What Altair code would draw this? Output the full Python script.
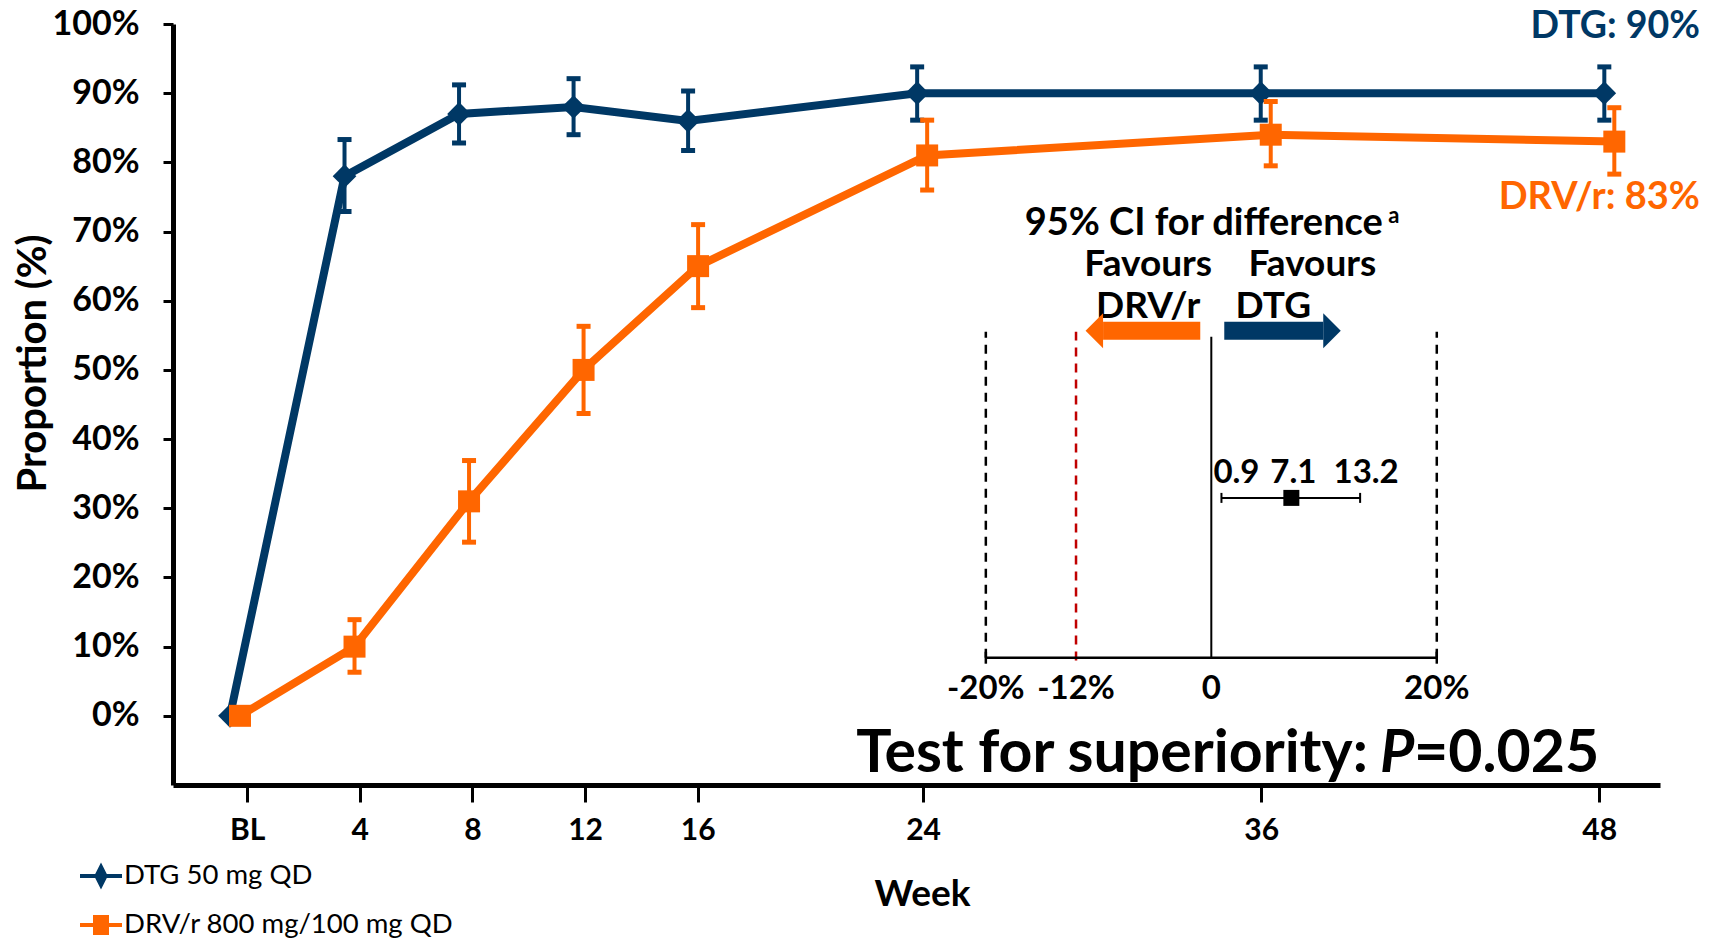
import altair as alt
import pandas as pd

# ---------------- data ----------------
weeks = [0, 4, 8, 12, 16, 24, 36, 48]
week_labels = ["BL", "4", "8", "12", "16", "24", "36", "48"]
y_ticks = [0, 10, 20, 30, 40, 50, 60, 70, 80, 90, 100]

dtg_name = "DTG 50 mg QD"
drv_name = "DRV/r 800 mg/100 mg QD"
dtg_vals = [0, 78, 87, 88, 86, 90, 90, 90]
dtg_low = [0, 72.9, 82.8, 84.0, 81.7, 86.1, 86.1, 86.1]
dtg_high = [0, 83.3, 91.2, 92.1, 90.3, 93.8, 93.8, 93.8]
drv_vals = [0, 10, 31, 50, 65, 81, 84, 83]
drv_low = [0, 6.3, 25.1, 43.7, 59.0, 76.0, 79.5, 78.3]
drv_high = [0, 13.9, 36.9, 56.3, 71.0, 86.1, 88.8, 87.9]

# inset (95% CI for difference)
margin_lines = [-20, 20]
nim_line = [-12]
inset_ticks = [-20, -12, 0, 20]
inset_tick_labels = ["-20%", "-12%", "0", "20%"]
ci_low, ci_est, ci_high = 0.9, 7.1, 13.2

# ---------------- style ----------------
NAVY = "#003865"
ORANGE = "#FF6600"
RED = "#C00000"
FONT = "Lato"
W, H = 1487, 761

Y = alt.Scale(domain=[-10, 100], nice=False, zero=False)
X_AXIS = alt.Scale(domain=[-2.63, 50.16], nice=False, zero=False)
X_DATA = alt.Scale(domain=[-2.165, 49.77], nice=False, zero=False)
X_IN = alt.Scale(domain=[-92.1, 39.8], nice=False, zero=False)

# inset vertical placement (in proportion units of the shared y scale)
IN_AXIS_Y = 8.4
IN_TOP = 55.5
IN_ZERO_TOP = 54.8
IN_CI_Y = 31.5
ARROW_Y = 55.66


def ydat(v):
    return alt.Y(datum=v, type="quantitative", scale=Y, axis=None)


def xdat(v, sc):
    return alt.X(datum=v, type="quantitative", scale=sc, axis=None)


def text_layer(txt, x, y, sc, size, color="black", align="center",
               weight="bold", style="normal", dx=0, baseline="middle"):
    return alt.Chart(pd.DataFrame({"t": [txt]})).mark_text(
        font=FONT, fontSize=size, fontWeight=weight, fontStyle=style,
        color=color, align=align, baseline=baseline, dx=dx
    ).encode(x=xdat(x, sc), y=ydat(y), text="t:N")


layers = []

# ---- axis carrier ----
axis_df = pd.DataFrame({"week": weeks, "label": week_labels})
label_expr = f"datum.value == {weeks[0]} ? '{week_labels[0]}' : datum.label"
carrier = alt.Chart(axis_df).mark_point(opacity=0).encode(
    x=alt.X("week:Q", scale=X_AXIS, axis=alt.Axis(
        values=weeks, labelExpr=label_expr, grid=False,
        domainColor="black", domainWidth=5, tickColor="black", tickWidth=3, tickSize=17,
        labelFont=FONT, labelFontSize=30, labelFontWeight="bold", labelColor="black",
        labelPadding=13, labelFlush=False,
        title="Week", titleFont=FONT, titleFontSize=37, titleFontWeight="bold",
        titleColor="black", titleX=749, titleY=109, titleAlign="center",
        titleBaseline="middle")),
    y=alt.Y(datum=0, type="quantitative", scale=Y, axis=alt.Axis(
        values=y_ticks, labelExpr="datum.value + '%'", grid=False,
        domainColor="black", domainWidth=5, tickColor="black", tickWidth=3, tickSize=10,
        labelFont=FONT, labelFontSize=34, labelFontWeight="bold", labelColor="black",
        labelPadding=24, labelFlush=False,
        title="Proportion (%)", titleFont=FONT, titleFontSize=40, titleFontWeight="bold",
        titleColor="black", titleAngle=270, titleX=-140, titleY=339,
        titleAlign="center", titleBaseline="middle")),
)
layers.append(carrier)


# ---- series ----
def series_layers(vals, lo, hi, color, shape, size, offset):
    df = pd.DataFrame({"week": weeks, "value": vals})
    err = pd.DataFrame({"week": weeks[1:], "lo": lo[1:], "hi": hi[1:]})
    x = alt.X("week:Q", scale=X_DATA, axis=None)
    out = []
    out.append(alt.Chart(df).mark_line(color=color, strokeWidth=8, xOffset=offset).encode(
        x=x, y=alt.Y("value:Q", scale=Y, axis=None)))
    out.append(alt.Chart(err).mark_rule(color=color, strokeWidth=4, xOffset=offset).encode(
        x=x, y=alt.Y("lo:Q", scale=Y, axis=None), y2="hi:Q"))
    for fld in ["lo", "hi"]:
        out.append(alt.Chart(err).mark_tick(color=color, orient="horizontal", size=14,
                                            thickness=5, opacity=1, xOffset=offset).encode(
            x=x, y=alt.Y(f"{fld}:Q", scale=Y, axis=None)))
    out.append(alt.Chart(df).mark_point(filled=True, shape=shape, size=size, color=color,
                                        opacity=1, xOffset=offset).encode(
        x=x, y=alt.Y("value:Q", scale=Y, axis=None)))
    return out


layers += series_layers(dtg_vals, dtg_low, dtg_high, NAVY, "diamond", 560, -5)
layers += series_layers(drv_vals, drv_low, drv_high, ORANGE, "square", 484, 5)

# ---- end labels ----
layers.append(text_layer("DTG: 90%", 51.58, 99.6, X_AXIS, 37.5, NAVY, align="right"))
layers.append(text_layer("DRV/r: 83%", 51.58, 74.9, X_AXIS, 38, ORANGE, align="right"))

# ---- inset ----
dash_df = pd.DataFrame({"v": margin_lines})
layers.append(alt.Chart(dash_df).mark_rule(color="black", strokeWidth=2.5, strokeDash=[9, 7]).encode(
    x=alt.X("v:Q", scale=X_IN, axis=None), y=ydat(IN_AXIS_Y), y2=alt.Y2(datum=IN_TOP)))
nim_df = pd.DataFrame({"v": nim_line})
layers.append(alt.Chart(nim_df).mark_rule(color=RED, strokeWidth=2.5, strokeDash=[9, 7]).encode(
    x=alt.X("v:Q", scale=X_IN, axis=None), y=ydat(IN_AXIS_Y - 0.4), y2=alt.Y2(datum=IN_TOP)))
zero_df = pd.DataFrame({"v": [0]})
layers.append(alt.Chart(zero_df).mark_rule(color="black", strokeWidth=2).encode(
    x=alt.X("v:Q", scale=X_IN, axis=None), y=ydat(IN_AXIS_Y), y2=alt.Y2(datum=IN_ZERO_TOP)))
# inset axis
ax_df = pd.DataFrame({"a": [margin_lines[0]], "b": [margin_lines[1]]})
layers.append(alt.Chart(ax_df).mark_rule(color="black", strokeWidth=2.5).encode(
    x=alt.X("a:Q", scale=X_IN, axis=None), x2="b:Q", y=ydat(IN_AXIS_Y)))
layers.append(alt.Chart(dash_df).mark_tick(color="black", orient="vertical", size=12,
                                           thickness=2.5, opacity=1).encode(
    x=alt.X("v:Q", scale=X_IN, axis=None), y=ydat(IN_AXIS_Y)))
tl_df = pd.DataFrame({"v": inset_ticks, "t": inset_tick_labels})
layers.append(alt.Chart(tl_df).mark_text(font=FONT, fontSize=33, fontWeight="bold",
                                         color="black", baseline="middle").encode(
    x=alt.X("v:Q", scale=X_IN, axis=None), y=ydat(3.9), text="t:N"))
# CI
ci_df = pd.DataFrame({"lo": [ci_low], "hi": [ci_high], "est": [ci_est]})
layers.append(alt.Chart(ci_df).mark_rule(color="black", strokeWidth=2).encode(
    x=alt.X("lo:Q", scale=X_IN, axis=None), x2="hi:Q", y=ydat(IN_CI_Y)))
ends_df = pd.DataFrame({"v": [ci_low, ci_high]})
layers.append(alt.Chart(ends_df).mark_tick(color="black", orient="vertical", size=10,
                                           thickness=2, opacity=1).encode(
    x=alt.X("v:Q", scale=X_IN, axis=None), y=ydat(IN_CI_Y)))
layers.append(alt.Chart(ci_df).mark_point(shape="square", filled=True, size=256,
                                          color="black", opacity=1).encode(
    x=alt.X("est:Q", scale=X_IN, axis=None), y=ydat(IN_CI_Y)))
layers.append(text_layer(f"{ci_low}", ci_low, 35.1, X_IN, 33, dx=15))
layers.append(text_layer(f"{ci_est}", ci_est, 35.1, X_IN, 33, dx=2))
layers.append(text_layer(f"{ci_high}", ci_high, 35.1, X_IN, 33, dx=6))
# titles
layers.append(text_layer("95% CI for difference", -0.67, 71.1, X_IN, 38))
layers.append(text_layer("a", 15.7, 72.3, X_IN, 22, align="left"))
layers.append(text_layer("Favours", -5.6, 65.2, X_IN, 37))
layers.append(text_layer("Favours", 8.96, 65.2, X_IN, 37))
layers.append(text_layer("DRV/r", -5.6, 59.1, X_IN, 37))
layers.append(text_layer("DTG", 5.5, 59.1, X_IN, 37))
# arrows
arr_l = pd.DataFrame({"a": [-0.98], "b": [-9.6]})
arr_r = pd.DataFrame({"a": [1.15], "b": [9.93]})
for adf, col, path in [(arr_l, ORANGE, "M0,-1L-1,0L0,1Z"), (arr_r, NAVY, "M0,-1L1,0L0,1Z")]:
    layers.append(alt.Chart(adf).mark_rule(color=col, strokeWidth=18, strokeCap="butt").encode(
        x=alt.X("a:Q", scale=X_IN, axis=None), x2="b:Q", y=ydat(ARROW_Y)))
    layers.append(alt.Chart(adf).mark_point(shape=path, filled=True, size=1225, color=col,
                                            opacity=1, strokeWidth=0).encode(
        x=alt.X("b:Q", scale=X_IN, axis=None), y=ydat(ARROW_Y)))

# ---- superiority test ----
TEST_Y = -5.5
layers.append(text_layer("Test for superiority:", 39.79, TEST_Y, X_AXIS, 59, align="right"))
layers.append(text_layer("P", 40.22, TEST_Y, X_AXIS, 59, align="left", style="italic"))
layers.append(text_layer("=0.025", 41.43, TEST_Y, X_AXIS, 59, align="left"))

# ---- legend ----
names = [dtg_name, drv_name]
colors = [NAVY, ORANGE]
paths = ["M-1.75,0H1.75M0,-0.75L0.38,0L0,0.75L-0.38,0Z",
         "M-1.75,0H1.75M-0.5,-0.66H0.5V0.66H-0.5Z"]
leg = dict(title=None, orient="none", legendX=-86, legendY=838, padding=0,
           labelFont=FONT, labelFontSize=27.5, labelColor="black", labelOffset=9,
           labelLimit=0, symbolSize=576, symbolStrokeWidth=4, symbolOpacity=1,
           rowPadding=16)
leg_df = pd.DataFrame({"series": names})
layers.append(alt.Chart(leg_df).mark_point(opacity=0).encode(
    fill=alt.Fill("series:N", scale=alt.Scale(domain=names, range=colors), legend=alt.Legend(**leg)),
    stroke=alt.Stroke("series:N", scale=alt.Scale(domain=names, range=colors), legend=alt.Legend(**leg)),
    shape=alt.Shape("series:N", scale=alt.Scale(domain=names, range=paths), legend=alt.Legend(**leg)),
))

chart = alt.layer(*layers).resolve_scale(x="independent").resolve_axis(y="independent").properties(
    width=W, height=H,
    padding={"left": 173, "top": 24, "right": 55, "bottom": 155},
    autosize=alt.AutoSizeParams(type="none"),
    background="white",
).configure_view(stroke=None)

chart.save("out.html", embed_options={"renderer": "svg", "actions": False})
